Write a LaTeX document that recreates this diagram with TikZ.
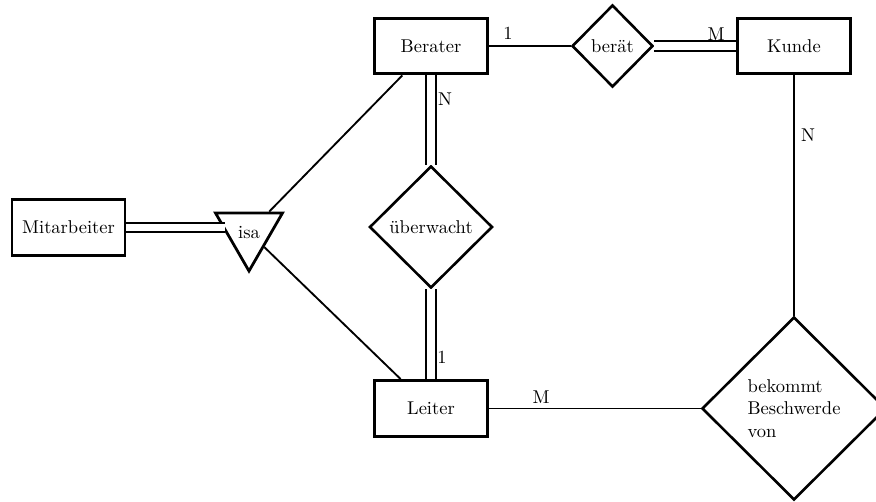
\documentclass[tikz,border=0pt]{standalone}
\usetikzlibrary{shapes.geometric}
\begin{document}
\begin{tikzpicture}[x=0.54pt,y=-0.54pt,
  entity/.style={draw, line width=1.6pt, minimum width=61pt, minimum height=30.2pt, inner sep=0pt},
  rel/.style={draw, diamond, line width=1.4pt, inner sep=0pt},
  isatri/.style={draw, regular polygon, regular polygon sides=3, shape border rotate=180, line width=1.5pt, inner sep=0pt, minimum size=41.8pt},
  conn/.style={line width=1pt},
  dbl/.style={line width=1pt, double, double distance=4pt},
  card/.style={inner sep=0pt}]
\useasboundingbox (0,0) rectangle (876,501);
\clip (0,0) rectangle (876,501);
% entities
\node[entity] (berater) at (431,46) {Berater};
\node[entity] (kunde) at (794,46) {Kunde};
\node[entity] (mit) at (68.5,227.5) {Mitarbeiter};
\node[entity] (leiter) at (431,408.5) {Leiter};
% relationships
\node[rel, minimum width=43.7pt, minimum height=44.3pt] (berat) at (612.5,46) {berät};
\node[rel, minimum width=66.4pt, minimum height=65.9pt] (ueber) at (431,227) {überwacht};
\node[rel, minimum width=99.4pt, minimum height=98.8pt, align=left] (beschw) at (794,408.5) {bekommt\\Beschwerde\\von};
\node[isatri] (isa) at (249,232.3) {isa};
% connectors
\draw[conn] (berater) -- (berat);
\draw[dbl] (berat) -- (kunde);
\draw[dbl] (berater) -- (ueber);
\draw[dbl] (ueber) -- (leiter);
\draw[conn] (kunde) -- (beschw);
\draw[conn] (leiter) -- (beschw);
\draw[dbl] (mit.east) -- (mit.east -| isa.west);
\draw[conn] (isa) -- (berater);
\draw[conn] (isa) -- (leiter);
% cardinalities
\node[card] (c1) at (508,33) {1};
\node[card] (c2) at (716,34) {M};
\node[card] (c3) at (445,99) {N};
\node[card] (c4) at (442,357) {1};
\node[card] (c5) at (808,135) {N};
\node[card] (c6) at (541,397) {M};
\end{tikzpicture}
\end{document}
